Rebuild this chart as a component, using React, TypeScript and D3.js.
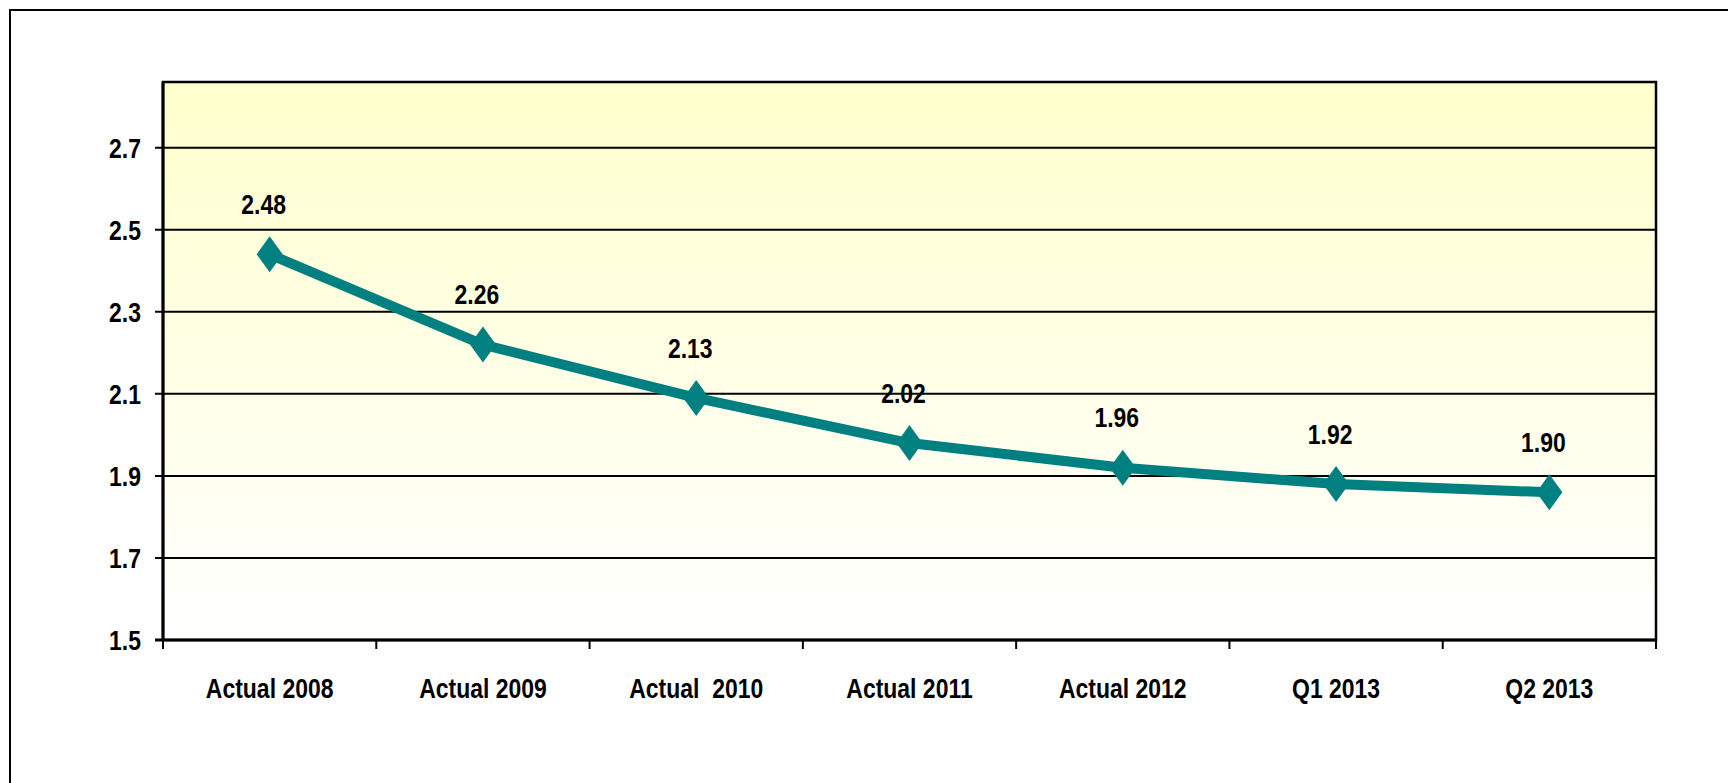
import React from "react";
import * as d3 from "d3";

const categories = ["Actual 2008", "Actual 2009", "Actual  2010", "Actual 2011", "Actual 2012", "Q1 2013", "Q2 2013"];
const plottedValues = [2.44, 2.22, 2.09, 1.98, 1.92, 1.88, 1.86];
const labelValues = [2.48, 2.26, 2.13, 2.02, 1.96, 1.92, 1.9];
const yTicks = [1.5, 1.7, 1.9, 2.1, 2.3, 2.5, 2.7];
const yDomain = [1.5, 2.86];

const W = 1728;
const H = 783;
const M = { left: 163, top: 82, right: 1656, bottom: 640 };
const FONT = "'Liberation Sans', Arial, sans-serif";

function NarrowText({
  x,
  y,
  anchor,
  children,
}: {
  x: number;
  y: number;
  anchor: "start" | "middle" | "end";
  children: React.ReactNode;
}) {
  return (
    <text
      transform={`translate(${x},${y}) scale(0.82,1)`}
      textAnchor={anchor}
      fontSize={28}
      fontWeight="bold"
      fill="#000"
      style={{ whiteSpace: "pre" }}
    >
      {children}
    </text>
  );
}

export default function App() {
  const x = d3.scaleBand<string>().domain(categories).range([M.left, M.right]).padding(0);
  const y = d3.scaleLinear().domain(yDomain).range([M.bottom, M.top]);
  const cx = (i: number) => (x(categories[i]) as number) + x.bandwidth() / 2;

  const line = d3
    .line<number>()
    .x((_, i) => cx(i))
    .y((d) => y(d));

  const boundaries = categories.map((c) => x(c) as number).concat([M.right]);
  const diamond = (px: number, py: number) =>
    `M${px},${py - 18}L${px + 13},${py}L${px},${py + 18}L${px - 13},${py}Z`;

  return (
    <svg
      width={W}
      height={H}
      style={{ position: "absolute", left: 0, top: 0, display: "block", background: "#ffffff" }}
      fontFamily={FONT}
    >
      <defs>
        <linearGradient id="bg" x1="0" y1="0" x2="0" y2="1">
          <stop offset="0%" stopColor="#FFFFCC" />
          <stop offset="100%" stopColor="#FFFFFF" />
        </linearGradient>
      </defs>
      <rect x={10} y={10} width={W + 20} height={H + 20} fill="#fff" stroke="#000" strokeWidth={2} />
      <rect x={M.left} y={M.top} width={M.right - M.left} height={M.bottom - M.top} fill="url(#bg)" />
      {yTicks.map((t) => (
        <g key={t}>
          <line x1={M.left - 8} x2={M.right} y1={y(t)} y2={y(t)} stroke="#000" strokeWidth={2} />
          <NarrowText x={141} y={y(t) + 10} anchor="end">
            {t.toFixed(1)}
          </NarrowText>
        </g>
      ))}
      <rect
        x={M.left}
        y={M.top}
        width={M.right - M.left}
        height={M.bottom - M.top}
        fill="none"
        stroke="#000"
        strokeWidth={2.5}
      />
      <line x1={M.left} x2={M.left} y1={M.top} y2={M.bottom} stroke="#000" strokeWidth={3} />
      <line x1={M.left - 8} x2={M.right} y1={M.bottom} y2={M.bottom} stroke="#000" strokeWidth={3} />
      {boundaries.map((b, i) => (
        <line key={i} x1={b} x2={b} y1={M.bottom} y2={M.bottom + 9} stroke="#000" strokeWidth={2} />
      ))}
      {categories.map((c, i) => (
        <NarrowText key={c} x={cx(i)} y={698} anchor="middle">
          {c}
        </NarrowText>
      ))}
      <path d={line(plottedValues) as string} fill="none" stroke="#008080" strokeWidth={10} strokeLinejoin="round" />
      {plottedValues.map((v, i) => (
        <path key={i} d={diamond(cx(i), y(v))} fill="#008080" />
      ))}
      {labelValues.map((v, i) => (
        <NarrowText key={i} x={cx(i) - 6} y={y(v) - 24} anchor="middle">
          {v.toFixed(2)}
        </NarrowText>
      ))}
    </svg>
  );
}
